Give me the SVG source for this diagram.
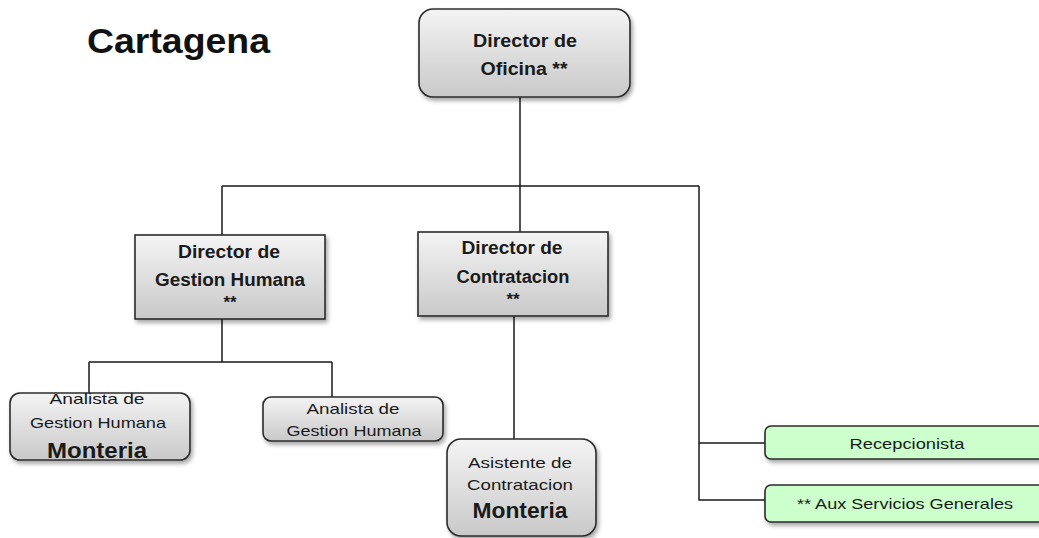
<svg xmlns="http://www.w3.org/2000/svg" width="1039" height="538" viewBox="0 0 1039 538">
<defs>
<linearGradient id="gray" x1="0" y1="0" x2="0" y2="1">
<stop offset="0" stop-color="#f4f4f4"/>
<stop offset="1" stop-color="#c9c9c9"/>
</linearGradient>
<filter id="sh" x="-10%" y="-10%" width="125%" height="135%">
<feDropShadow dx="2" dy="3" stdDeviation="2" flood-color="#000" flood-opacity="0.35"/>
</filter>
</defs>
<style>
.box{fill:url(#gray);stroke:#2b2b2b;stroke-width:1.6;filter:url(#sh)}
.grn{fill:#ccffcc;stroke:#2b2b2b;stroke-width:1.6;filter:url(#sh)}
.b{font-family:"Liberation Sans",Arial,sans-serif;font-weight:bold;fill:#1a1a1a;text-anchor:middle}
.r{font-family:"Liberation Sans",Arial,sans-serif;fill:#1a1a1a;text-anchor:middle}
.ln{fill:none;stroke:#1a1a1a;stroke-width:1.5}
</style>
<rect width="1039" height="538" fill="#fff"/>
<text x="87" y="53" font-family="'Liberation Sans',Arial,sans-serif" font-weight="bold" font-size="35" fill="#111" textLength="183" lengthAdjust="spacingAndGlyphs">Cartagena</text>
<g id="connectors">
<path class="ln" d="M520 97V186M222 186H699M222 186V235M520 186V232M699 186V500H765M699 443H765"/>
<path class="ln" d="M222 319V362M89 362H332M89 362V393M332 362V397"/>
<path class="ln" d="M514 316V439"/>
</g>
<g id="director-oficina">
<rect class="box" x="419" y="9" width="211" height="88" rx="14"/>
<text class="b" x="525" y="47" font-size="18" textLength="104" lengthAdjust="spacingAndGlyphs">Director  de</text>
<text class="b" x="524" y="75" font-size="18" textLength="87" lengthAdjust="spacingAndGlyphs">Oficina **</text>
</g>
<g id="director-gestion-humana">
<rect class="box" x="135" y="235" width="190" height="84"/>
<text class="b" x="229" y="258" font-size="18" textLength="102" lengthAdjust="spacingAndGlyphs">Director de</text>
<text class="b" x="230" y="286" font-size="18" textLength="150" lengthAdjust="spacingAndGlyphs">Gestion Humana</text>
<text class="b" x="230" y="308" font-size="17">**</text>
</g>
<g id="director-contratacion">
<rect class="box" x="418" y="232" width="190" height="84"/>
<text class="b" x="512" y="254" font-size="18" textLength="101" lengthAdjust="spacingAndGlyphs">Director de</text>
<text class="b" x="513" y="283" font-size="18" textLength="113" lengthAdjust="spacingAndGlyphs">Contratacion</text>
<text class="b" x="513" y="305" font-size="17">**</text>
</g>
<g id="analista-monteria">
<rect class="box" x="10" y="393" width="180" height="67" rx="10"/>
<text class="r" x="97" y="404" font-size="15" textLength="95" lengthAdjust="spacingAndGlyphs">Analista de</text>
<text class="r" x="98" y="428" font-size="15" textLength="136" lengthAdjust="spacingAndGlyphs">Gestion Humana</text>
<text class="b" x="97" y="458" font-size="22" textLength="100" lengthAdjust="spacingAndGlyphs">Monteria</text>
</g>
<g id="analista-gestion-humana">
<rect class="box" x="263" y="397" width="180" height="44" rx="8"/>
<text class="r" x="353" y="414" font-size="15" textLength="93" lengthAdjust="spacingAndGlyphs">Analista de</text>
<text class="r" x="354" y="436" font-size="15" textLength="135" lengthAdjust="spacingAndGlyphs">Gestion Humana</text>
</g>
<g id="asistente-contratacion">
<rect class="box" x="447" y="439" width="149" height="97" rx="14"/>
<text class="r" x="520" y="468" font-size="15" textLength="104" lengthAdjust="spacingAndGlyphs">Asistente de</text>
<text class="r" x="520" y="490" font-size="15" textLength="106" lengthAdjust="spacingAndGlyphs">Contratacion</text>
<text class="b" x="520" y="518" font-size="22" textLength="95" lengthAdjust="spacingAndGlyphs">Monteria</text>
</g>
<g id="recepcionista">
<rect class="grn" x="765" y="426" width="290" height="33" rx="6"/>
<text class="r" x="907" y="449" font-size="15" textLength="115" lengthAdjust="spacingAndGlyphs">Recepcionista</text>
</g>
<g id="aux-servicios-generales">
<rect class="grn" x="765" y="485" width="290" height="37" rx="6"/>
<text class="r" x="905" y="509" font-size="15" textLength="216" lengthAdjust="spacingAndGlyphs">** Aux Servicios Generales</text>
</g>
</svg>
